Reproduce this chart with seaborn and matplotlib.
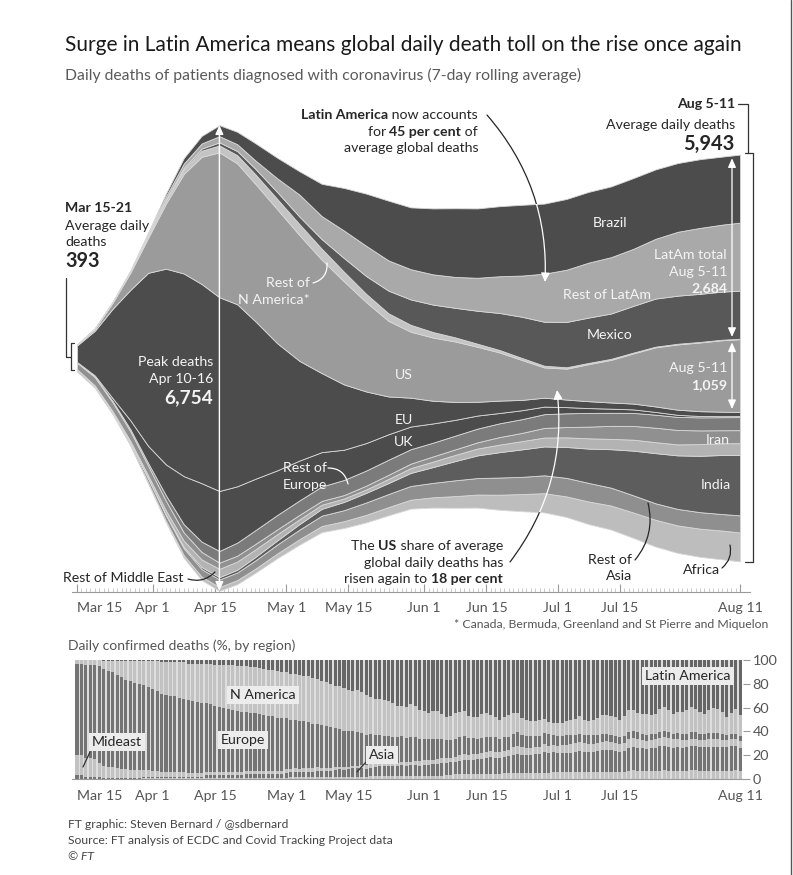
import numpy as np
import pandas as pd
import matplotlib
matplotlib.use("Agg")
import matplotlib.pyplot as plt
import seaborn as sns
from matplotlib.patches import Polygon
from matplotlib.lines import Line2D

# ---------------- data: daily deaths, 7-day average (days after Mar 15) ----------------
sample_days = [0, 4, 8, 12, 16, 20, 24, 28, 32, 36, 40, 45, 50, 55, 60, 65, 70, 75, 80, 85,
               90, 95, 100, 105, 110, 115, 120, 125, 130, 135, 140, 145, 149]
brazil = [0, 0, 2, 8, 20, 40, 80, 110, 160, 180, 250, 300, 340, 470, 620, 760, 870, 900, 960, 1000,
          1010, 1020, 1030, 1020, 1030, 1030, 1030, 1030, 1010, 1000, 1000, 990, 990]
rest_latam = [0, 1, 3, 8, 25, 45, 60, 75, 90, 100, 120, 200, 320, 335, 400, 440, 440, 440, 440, 450,
              480, 535, 600, 700, 760, 800, 820, 830, 870, 930, 960, 975, 990]
mexico = [0, 0, 0, 2, 5, 10, 20, 30, 45, 60, 80, 100, 110, 140, 200, 260, 330, 370, 400, 430,
          480, 540, 600, 640, 660, 660, 660, 680, 700, 700, 700, 700, 700]
rest_n_america = [1, 2, 5, 15, 30, 50, 70, 90, 100, 120, 140, 150, 160, 160, 140, 120, 110, 100, 80, 60,
                  45, 35, 30, 25, 20, 18, 15, 12, 10, 10, 8, 8, 7]
us = [10, 30, 90, 250, 510, 950, 1450, 1850, 2110, 2050, 2000, 1950, 1830, 1650, 1500, 1300, 1100, 960, 920, 880,
      800, 700, 580, 440, 450, 540, 620, 730, 860, 950, 1000, 1040, 1059]
eu = [240, 650, 1300, 1900, 2520, 2850, 2950, 2900, 2820, 2650, 2300, 1850, 1450, 1150, 950, 750, 550, 420, 330, 260,
      200, 180, 150, 130, 110, 100, 90, 85, 80, 75, 70, 65, 60]
uk = [5, 15, 40, 130, 250, 450, 700, 850, 873, 820, 750, 650, 580, 500, 440, 400, 370, 330, 280, 230,
      190, 150, 130, 110, 90, 70, 60, 50, 40, 30, 20, 15, 15]
rest_europe = [5, 10, 20, 30, 40, 80, 120, 150, 170, 190, 200, 210, 210, 210, 220, 220, 220, 210, 200, 200,
               200, 200, 200, 200, 200, 200, 190, 190, 190, 190, 190, 190, 190]
iran = [95, 120, 130, 140, 140, 140, 120, 110, 90, 85, 80, 70, 65, 55, 50, 55, 60, 65, 75, 80,
        90, 110, 120, 140, 150, 170, 190, 200, 210, 210, 200, 190, 190]
rest_middle_east = [5, 8, 15, 25, 40, 60, 90, 110, 120, 120, 110, 90, 70, 60, 50, 50, 60, 70, 80, 90,
                    100, 110, 120, 130, 140, 150, 150, 160, 160, 160, 170, 170, 170]
india = [0, 1, 2, 3, 5, 10, 20, 30, 35, 40, 50, 60, 80, 100, 120, 140, 160, 190, 230, 280,
         330, 370, 400, 420, 450, 500, 560, 650, 730, 780, 820, 860, 880]
rest_asia = [25, 20, 20, 30, 60, 80, 100, 110, 110, 110, 120, 130, 140, 150, 160, 180, 190, 200, 210, 230,
             240, 250, 250, 260, 270, 270, 260, 250, 240, 240, 240, 240, 250]
africa = [1, 2, 5, 10, 15, 25, 40, 50, 55, 60, 60, 70, 80, 90, 100, 110, 120, 130, 150, 170,
          190, 220, 250, 280, 300, 330, 350, 370, 390, 400, 410, 420, 420]

tick_days = [0, 17, 31, 47, 61, 78, 92, 108, 122, 149]
tick_labels = ["Mar 15", "Apr 1", "Apr 15", "May 1", "May 15", "Jun 1", "Jun 15", "Jul 1", "Jul 15", "Aug 11"]

# ---------------- data: daily confirmed deaths share (%) by region ----------------
bar_days = list(range(150))
share_latam = [0, 0, 0, 0, 0, 0, 1, 1, 1, 1,
               1, 1, 1, 1, 1, 1, 1, 1, 1, 2,
               2, 2, 2, 2, 2, 3, 3, 3, 3, 3,
               3, 4, 4, 4, 4, 4, 5, 5, 5, 6,
               6, 7, 7, 8, 8, 9, 10, 10, 12, 12,
               13, 14, 14, 15, 16, 18, 18, 20, 22, 22,
               24, 25, 26, 25, 27, 30, 32, 34, 33, 35,
               35, 38, 40, 40, 42, 38, 41, 45, 46, 48,
               45, 44, 47, 52, 50, 46, 45, 43, 48, 50,
               49, 46, 44, 46, 48, 52, 48, 46, 44, 42,
               48, 50, 51, 49, 48, 46, 50, 52, 53, 54,
               52, 50, 48, 46, 50, 52, 51, 48, 44, 45,
               47, 49, 52, 48, 42, 40, 44, 46, 47, 48,
               46, 40, 38, 42, 46, 44, 45, 42, 38, 40,
               44, 46, 42, 40, 41, 44, 48, 44, 40, 48]
share_n_america = [3, 3, 4, 4, 4, 5, 6, 8, 9, 11,
                   13, 15, 16, 17, 18, 19, 21, 23, 25, 26,
                   27, 28, 28, 29, 30, 30, 31, 31, 32, 33,
                   33, 34, 35, 36, 36, 37, 37, 38, 38, 38,
                   38, 38, 38, 39, 39, 39, 38, 39, 39, 38,
                   39, 38, 39, 39, 38, 37, 37, 36, 36, 35,
                   36, 35, 33, 34, 35, 34, 33, 32, 31, 31,
                   30, 29, 27, 26, 28, 28, 27, 26, 25, 24,
                   25, 24, 22, 21, 22, 23, 22, 21, 19, 18,
                   19, 20, 19, 18, 17, 16, 17, 18, 17, 15,
                   14, 13, 12, 12, 13, 11, 10, 10, 11, 11,
                   12, 12, 13, 14, 13, 12, 13, 14, 16, 15,
                   15, 16, 15, 17, 18, 17, 16, 17, 18, 17,
                   17, 19, 20, 18, 17, 18, 19, 20, 21, 19,
                   18, 17, 19, 21, 20, 18, 16, 17, 20, 18]
share_europe = [77, 77, 78, 78, 79, 79, 79, 78, 77, 76,
                74, 72, 71, 70, 70, 69, 68, 67, 66, 65,
                64, 63, 62, 61, 60, 60, 59, 58, 57, 57,
                56, 55, 54, 53, 52, 51, 50, 50, 49, 48,
                48, 47, 46, 45, 45, 44, 44, 43, 42, 41,
                41, 40, 39, 38, 37, 36, 35, 34, 33, 32,
                31, 30, 29, 28, 27, 26, 26, 25, 24, 24,
                23, 23, 22, 22, 22, 21, 21, 20, 19, 19,
                18, 18, 17, 17, 16, 16, 15, 15, 14, 14,
                13, 13, 13, 12, 12, 12, 12, 11, 11, 11,
                10, 10, 10, 9, 9, 9, 9, 8, 8, 8,
                8, 8, 7, 7, 7, 7, 7, 7, 6, 6,
                6, 6, 6, 6, 6, 6, 6, 5, 5, 5,
                5, 5, 5, 5, 5, 5, 5, 5, 5, 5,
                5, 5, 5, 5, 5, 5, 4, 4, 4, 4]
share_mideast = [17, 17, 16, 16, 15, 11, 10, 9, 9, 8,
                 7, 7, 6, 6, 6, 5, 5, 5, 5, 4,
                 4, 4, 4, 4, 4, 3, 3, 3, 3, 3,
                 3, 3, 3, 3, 3, 3, 3, 3, 3, 3,
                 3, 3, 3, 3, 3, 3, 3, 3, 3, 3,
                 3, 3, 3, 3, 3, 2, 2, 2, 2, 2,
                 2, 2, 2, 2, 3, 3, 3, 3, 3, 3,
                 3, 3, 3, 3, 3, 3, 4, 4, 4, 4,
                 4, 4, 4, 4, 4, 4, 5, 5, 5, 5,
                 5, 5, 5, 5, 5, 5, 5, 5, 6, 6,
                 6, 6, 6, 6, 6, 6, 6, 6, 6, 7,
                 7, 7, 7, 7, 7, 7, 7, 7, 7, 7,
                 7, 7, 7, 7, 7, 7, 7, 7, 7, 7,
                 7, 7, 7, 7, 7, 7, 7, 6, 6, 6,
                 6, 6, 6, 6, 6, 6, 6, 6, 6, 6]
share_asia = [3, 3, 2, 2, 2, 2, 1, 1, 1, 1,
              1, 1, 1, 1, 1, 1, 1, 1, 1, 1,
              1, 1, 1, 1, 1, 1, 1, 1, 1, 2,
              2, 2, 2, 2, 2, 2, 2, 2, 3, 3,
              3, 3, 3, 3, 3, 3, 3, 4, 4, 4,
              4, 4, 4, 4, 5, 5, 5, 5, 6, 6,
              6, 6, 7, 7, 7, 7, 7, 8, 8, 8,
              8, 8, 8, 9, 9, 9, 9, 9, 10, 10,
              10, 10, 11, 11, 11, 11, 12, 12, 12, 13,
              13, 13, 13, 14, 14, 14, 14, 14, 15, 15,
              15, 15, 15, 15, 15, 16, 16, 16, 16, 16,
              16, 16, 16, 17, 17, 17, 17, 17, 17, 18,
              18, 18, 18, 18, 19, 19, 19, 19, 19, 20,
              20, 20, 20, 20, 20, 20, 20, 20, 20, 20,
              20, 20, 20, 20, 20, 20, 20, 20, 20, 20]
share_africa = [0, 0, 0, 0, 0, 0, 0, 0, 0, 0,
                0, 0, 0, 0, 0, 1, 1, 1, 1, 1,
                1, 1, 1, 1, 1, 1, 1, 1, 1, 1,
                1, 1, 1, 1, 1, 1, 1, 1, 1, 1,
                1, 1, 1, 1, 1, 1, 1, 1, 2, 2,
                2, 2, 2, 2, 2, 2, 2, 2, 2, 2,
                2, 2, 2, 2, 2, 2, 3, 3, 3, 3,
                3, 3, 3, 3, 3, 3, 3, 3, 3, 3,
                3, 3, 3, 4, 4, 4, 4, 4, 4, 4,
                4, 4, 4, 4, 4, 4, 5, 5, 5, 5,
                5, 5, 5, 5, 5, 5, 5, 6, 6, 6,
                6, 6, 6, 6, 6, 6, 6, 6, 6, 6,
                6, 6, 6, 6, 7, 7, 7, 7, 7, 7,
                7, 7, 7, 7, 7, 7, 7, 7, 7, 7,
                7, 7, 7, 7, 7, 7, 7, 7, 7, 7]

# ---------------- style ----------------
sns.set_theme(style="white")
plt.rcParams["font.family"] = ["Lato", "DejaVu Sans"]

W, H = 793, 875
fig = plt.figure(figsize=(W / 100, H / 100), dpi=100)
fig.patch.set_facecolor("white")


def fx(px):
    return px / W


def fy(py):
    return 1 - py / H


def fp(x, y):
    return (x, H - y)


def ax_rect(left_px, right_px, top_px, bottom_px):
    return [fx(left_px), fy(bottom_px), (right_px - left_px) / W, (bottom_px - top_px) / H]


PX_PER_DAY = 4.45
X0 = 77
PX_PER_DEATH = 0.0687
CENTER = 358
TOP_PX, BOT_PX = 120, 592

DARK_TXT = "#262626"
WHITE_TXT = "#f4f4f4"
AXIS_GREY = "#9a9a9a"
FS = 10.2  # annotation font size

# ---------------- top: streamgraph ----------------
ax = fig.add_axes(ax_rect(72, 750, TOP_PX, BOT_PX))
ax.set_xlim(-(X0 - 72) / PX_PER_DAY, (750 - X0) / PX_PER_DAY)
ax.set_ylim(-(BOT_PX - CENTER) / PX_PER_DEATH, (CENTER - TOP_PX) / PX_PER_DEATH)
ax.set_facecolor("white")

stream = [
    ("Africa", africa, "#bdbdbd"),
    ("Rest of Asia", rest_asia, "#8f8f8f"),
    ("India", india, "#5d5d5d"),
    ("Rest of Middle East", rest_middle_east, "#b3b3b3"),
    ("Iran", iran, "#909090"),
    ("Rest of Europe", rest_europe, "#7b7b7b"),
    ("UK", uk, "#4c4c4c"),
    ("EU", eu, "#4c4c4c"),
    ("US", us, "#9b9b9b"),
    ("Rest of N America", rest_n_america, "#c4c4c4"),
    ("Mexico", mexico, "#585858"),
    ("Rest of LatAm", rest_latam, "#a9a9a9"),
    ("Brazil", brazil, "#4c4c4c"),
]
days = np.array(sample_days, float)
vals = np.array([v for _, v, _ in stream], float)
ax.stackplot(days, *vals, baseline="sym", colors=[c for _, _, c in stream],
             edgecolor="#d8d8d8", linewidth=0.6)

total = vals.sum(axis=0)
base = -total / 2
cum = base + np.cumsum(vals, axis=0)
top = cum[-1]
names = [n for n, _, _ in stream]

for s in ["top", "right", "left"]:
    ax.spines[s].set_visible(False)
ax.spines["bottom"].set_color(AXIS_GREY)
ax.spines["bottom"].set_linewidth(0.8)
ax.set_yticks([])
ax.set_xticks(tick_days)
ax.set_xticklabels(tick_labels)
ax.set_xticks(range(0, 150), minor=True)
ax.tick_params(axis="x", which="major", direction="in", length=6, width=0.8, color=AXIS_GREY,
               labelsize=10.2, labelcolor="#555555", pad=7, bottom=True)
ax.tick_params(axis="x", which="minor", direction="in", length=3, width=0.5, color="#b5b5b5", bottom=True)
ax.get_xticklabels()[0].set_ha("left")

# clip regions
n = len(days)
big = 1e5
poly_above = Polygon(np.column_stack([np.r_[days, days[::-1]], np.r_[top, np.full(n, big)]]),
                     closed=True, transform=ax.transData)
poly_below = Polygon(np.column_stack([np.r_[days, days[::-1]], np.r_[base, np.full(n, -big)]]),
                     closed=True, transform=ax.transData)
poly_inside = Polygon(np.column_stack([np.r_[days, days[::-1]], np.r_[top, base[::-1]]]),
                      closed=True, transform=ax.transData)


def arrow(p_from, p_to, color, rad, lw=0.9, head=True, clip=None):
    style = "-|>,head_length=0.45,head_width=0.22" if head else "-"
    a = ax.annotate("", xy=fp(*p_to), xycoords="figure pixels", xytext=fp(*p_from),
                    textcoords="figure pixels",
                    arrowprops=dict(arrowstyle=style, color=color, lw=lw,
                                    connectionstyle=f"arc3,rad={rad}", shrinkA=0, shrinkB=0),
                    annotation_clip=False)
    if clip is not None:
        a.arrow_patch.set_clip_path(clip)
    return a


# peak double arrow
pk = int(np.argmax(total))
ax.annotate("", xy=(days[pk], top[pk]), xytext=(days[pk], base[pk]),
            arrowprops=dict(arrowstyle="<|-|>,head_length=0.45,head_width=0.2", color="white", lw=1.0,
                            shrinkA=0, shrinkB=0))

# right double arrows (LatAm total, US)
xa = (732 - X0) / PX_PER_DAY
i_us = names.index("US")
y_top = np.interp(xa, days, top)
y_mid = np.interp(xa, days, cum[i_us])
y_usb = np.interp(xa, days, cum[i_us - 1])
for y1, y2 in [(y_top, y_mid), (y_mid, y_usb)]:
    ax.annotate("", xy=(xa, y1), xytext=(xa, y2),
                arrowprops=dict(arrowstyle="<|-|>,head_length=0.45,head_width=0.2", color="white",
                                lw=0.9, shrinkA=2, shrinkB=2))

# curved arrows
arrow((487, 115), (545, 282), DARK_TXT, -0.2, clip=poly_above)
arrow((487, 115), (545, 282), "white", -0.2, clip=poly_inside)
arrow((510, 562), (557, 390), DARK_TXT, 0.2, clip=poly_below)
arrow((510, 562), (557, 390), "white", 0.2, clip=poly_inside)
arrow((313, 283), (327, 263), "white", 0.4, head=False)
arrow((328, 468), (348, 484), "white", -0.4, head=False)
arrow((635, 560), (648, 503), DARK_TXT, 0.25, head=False)
arrow((722, 568), (730, 545), DARK_TXT, 0.3, head=False)
arrow((188, 579), (215, 572), DARK_TXT, 0.3, head=False)

# ---------------- text helpers ----------------
renderer = fig.canvas.get_renderer()


def txt(x, y, s, ha="left", size=FS, color=DARK_TXT, weight="normal", style="normal"):
    return fig.text(fx(x), fy(y), s, ha=ha, va="center", fontsize=size, color=color,
                    fontweight=weight, fontstyle=style)


def rich_right(x_right, y, parts, size=FS, color=DARK_TXT):
    x = x_right
    for s, wt in reversed(parts):
        t = fig.text(fx(x), fy(y), s, ha="right", va="center", fontsize=size, color=color, fontweight=wt)
        bb = t.get_window_extent(renderer=renderer)
        x -= bb.width


# title & subtitle
txt(65, 45, "Surge in Latin America means global daily death toll on the rise once again", size=15,
    color="#1a1a1a")
txt(65, 75, "Daily deaths of patients diagnosed with coronavirus (7-day rolling average)", size=11.3,
    color="#5a5a5a")

# left annotation
txt(65, 208, "Mar 15-21", weight="bold")
txt(65, 226, "Average daily")
txt(65, 242, "deaths")
txt(65, 261, "393", size=14.2, weight="bold")
for seg in [[(66, 278), (66, 357), (71, 357)], [(74, 343), (71, 343), (71, 370), (74, 370)]]:
    xs = [fx(p[0]) for p in seg]
    ys = [fy(p[1]) for p in seg]
    fig.add_artist(Line2D(xs, ys, color="#333333", lw=0.9))

# right annotation
txt(735, 104, "Aug 5-11", ha="right", weight="bold")
txt(735, 125, "Average daily deaths", ha="right")
txt(735, 144, "5,943", ha="right", size=14.4, weight="bold")
for seg in [[(738, 104), (748, 104), (748, 153)], [(745, 153), (753, 153), (753, 562), (745, 562)]]:
    xs = [fx(p[0]) for p in seg]
    ys = [fy(p[1]) for p in seg]
    fig.add_artist(Line2D(xs, ys, color="#333333", lw=0.9))

# in-stream labels
txt(213, 362, "Peak deaths", ha="right", color=WHITE_TXT)
txt(213, 379, "Apr 10-16", ha="right", color=WHITE_TXT)
txt(213, 398, "6,754", ha="right", size=13.7, weight="bold", color=WHITE_TXT)
txt(310, 283, "Rest of", ha="right", color=WHITE_TXT)
txt(310, 300, "N America*", ha="right", color=WHITE_TXT)
txt(610, 223, "Brazil", ha="center", color=WHITE_TXT)
txt(727, 255, "LatAm total", ha="right", color=WHITE_TXT)
txt(727, 272, "Aug 5-11", ha="right", color=WHITE_TXT)
txt(727, 288, "2,684", ha="right", weight="bold", color=WHITE_TXT)
txt(607, 295, "Rest of LatAm", ha="center", color=WHITE_TXT)
txt(610, 335, "Mexico", ha="center", color=WHITE_TXT)
txt(727, 368, "Aug 5-11", ha="right", color=WHITE_TXT)
txt(727, 385, "1,059", ha="right", weight="bold", color=WHITE_TXT)
txt(404, 375, "US", ha="center", color=WHITE_TXT)
txt(404, 420, "EU", ha="center", color=WHITE_TXT)
txt(404, 442, "UK", ha="center", color=WHITE_TXT)
txt(283, 468, "Rest of", color=WHITE_TXT)
txt(283, 485, "Europe", color=WHITE_TXT)
txt(718, 440, "Iran", ha="center", color=WHITE_TXT)
txt(716, 485, "India", ha="center", color=WHITE_TXT)

# outside labels
txt(632, 560, "Rest of", ha="right")
txt(632, 576, "Asia", ha="right")
txt(720, 570, "Africa", ha="right")
txt(63, 578, "Rest of Middle East")

rich_right(478, 115, [("Latin America", "bold"), (" now accounts", "normal")])
rich_right(478, 132, [("for ", "normal"), ("45 per cent", "bold"), (" of", "normal")])
rich_right(478, 148, [("average global deaths", "normal")])
rich_right(503, 546, [("The ", "normal"), ("US", "bold"), (" share of average", "normal")])
rich_right(503, 563, [("global daily deaths has", "normal")])
rich_right(503, 579, [("risen again to ", "normal"), ("18 per cent", "bold")])

txt(768, 624, "* Canada, Bermuda, Greenland and St Pierre and Miquelon", ha="right", size=8.8,
    color="#555555")

# ---------------- bottom: 100% stacked daily bars ----------------
regions_top_to_bottom = ["Latin America", "N America", "Europe", "Mideast", "Asia", "Africa"]
region_shares = {
    "Latin America": share_latam,
    "N America": share_n_america,
    "Europe": share_europe,
    "Mideast": share_mideast,
    "Asia": share_asia,
    "Africa": share_africa,
}
bar_palette = {
    "Latin America": "#666666",
    "N America": "#c2c2c2",
    "Europe": "#747474",
    "Mideast": "#c2c2c2",
    "Asia": "#747474",
    "Africa": "#c2c2c2",
}
df = pd.DataFrame([(d, r, region_shares[r][i]) for r in regions_top_to_bottom
                   for i, d in enumerate(bar_days)], columns=["day", "region", "share"])

ax2 = fig.add_axes(ax_rect(72, 743, 660, 779))
ax2.axvspan(-0.5, 149.5, color="#dedede", lw=0, zorder=0)
sns.histplot(data=df, x="day", weights="share", hue="region", hue_order=regions_top_to_bottom,
             multiple="fill", discrete=True, shrink=0.68, palette=bar_palette, linewidth=0,
             alpha=1, legend=False, ax=ax2, zorder=2)
ax2.set_xlim(-(X0 - 72) / PX_PER_DAY, (743 - X0) / PX_PER_DAY)
ax2.set_ylim(0, 1)
ax2.set_xlabel("")
ax2.set_ylabel("")
for s in ["top", "right", "left"]:
    ax2.spines[s].set_visible(False)
ax2.spines["bottom"].set_color(AXIS_GREY)
ax2.spines["bottom"].set_linewidth(0.8)
ax2.set_xticks(tick_days)
ax2.set_xticklabels(tick_labels)
ax2.set_xticks(range(0, 150), minor=True)
ax2.tick_params(axis="x", which="major", direction="in", length=6, width=0.8, color=AXIS_GREY,
                labelsize=10.2, labelcolor="#555555", pad=8, bottom=True)
ax2.tick_params(axis="x", which="minor", direction="in", length=3, width=0.5, color="#b5b5b5", bottom=True)
ax2.get_xticklabels()[0].set_ha("left")
ax2.yaxis.tick_right()
ax2.set_yticks([0, 0.2, 0.4, 0.6, 0.8, 1.0])
ax2.set_yticklabels(["0", "20", "40", "60", "80", "100"])
ax2.tick_params(axis="y", which="major", right=True, left=False, direction="out", length=5, width=0.8,
                color=AXIS_GREY, labelsize=10.4, labelcolor="#555555", pad=2)

txt(68, 646, "Daily confirmed deaths (%, by region)", size=10, color="#555555")

box = dict(boxstyle="square,pad=0.2", facecolor="#ececec", edgecolor="none")
for s, x, y in [("N America", 263, 695), ("Europe", 243, 740), ("Mideast", 117, 742),
                ("Asia", 382, 755), ("Latin America", 688, 676)]:
    fig.text(fx(x), fy(y), s, ha="center", va="center", fontsize=FS, color=DARK_TXT, bbox=box)
for seg in [[(90, 752), (83, 767)], [(366, 762), (357, 772)]]:
    fig.add_artist(Line2D([fx(p[0]) for p in seg], [fy(p[1]) for p in seg], color="#333333", lw=0.9))

# footer
txt(68, 825, "FT graphic: Steven Bernard / @sdbernard", size=8.7, color="#444444")
txt(68, 841, "Source: FT analysis of ECDC and Covid Tracking Project data", size=8.7, color="#444444")
txt(68, 856, "© FT", size=8.7, color="#444444", style="italic")

# page border on the right
fig.add_artist(Line2D([fx(791), fx(791)], [0, 1], color="#555555", lw=1))

fig.savefig("out.png", dpi=100)
